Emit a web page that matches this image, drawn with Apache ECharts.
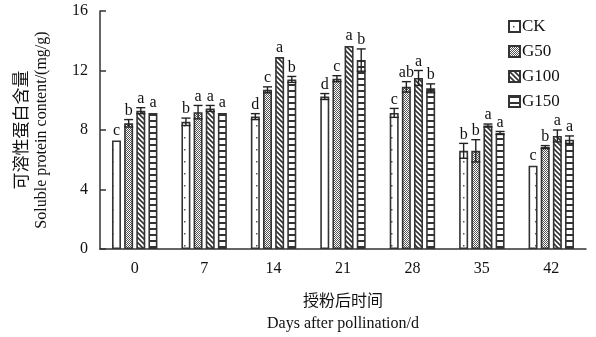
<!DOCTYPE html>
<html>
<head>
<meta charset="utf-8">
<script src="https://cdn.jsdelivr.net/npm/echarts@6/dist/echarts.min.js"></script>
<style>
  html, body { margin: 0; padding: 0; background: #fff; }
  #main { width: 596px; height: 337px; }
</style>
</head>
<body>
<div id="main"></div>
<script>
// 授粉后天数
var categories = ['0', '7', '14', '21', '28', '35', '42'];
var seriesNames = ['CK', 'G50', 'G100', 'G150'];

// 可溶性蛋白含量 (mg/g)
var ckData   = [7.3, 8.55, 8.9, 10.25, 9.15, 6.6, 5.6];
var g50Data  = [8.45, 9.2, 10.7, 11.45, 10.9, 6.6, 6.85];
var g100Data = [9.3, 9.45, 12.9, 13.65, 11.5, 8.3, 7.6];
var g150Data = [9.15, 9.15, 11.4, 12.7, 10.8, 7.8, 7.35];

// 标准误
var ckErr   = [0.05, 0.25, 0.2, 0.2, 0.3, 0.5, 0.05];
var g50Err  = [0.25, 0.45, 0.2, 0.2, 0.35, 0.75, 0.1];
var g100Err = [0.2, 0.2, 0.05, 0.05, 0.5, 0.1, 0.4];
var g150Err = [0.05, 0.05, 0.2, 0.75, 0.3, 0.1, 0.25];

// 显著性字母
var ckSig   = ['c', 'b', 'd', 'd', 'c', 'b', 'c'];
var g50Sig  = ['b', 'a', 'c', 'c', 'ab', 'b', 'b'];
var g100Sig = ['a', 'a', 'a', 'a', 'a', 'a', 'a'];
var g150Sig = ['a', 'a', 'b', 'b', 'b', 'a', 'a'];

var yTicks = [0, 4, 8, 12, 16];

var allData = [ckData, g50Data, g100Data, g150Data];
var allErr = [ckErr, g50Err, g100Err, g150Err];
var allSig = [ckSig, g50Sig, g100Sig, g150Sig];

var BAR_W = 9;
var BAR_GAP = 0.35;
var serif = '"Liberation Serif", "Times New Roman", serif';
var cjk = '"Noto Sans CJK SC", sans-serif';

// 填充图案
function makePattern(kind) {
    var c = document.createElement('canvas');
    var ctx;
    if (kind === 'dot') {
        c.width = 9; c.height = 12;
        ctx = c.getContext('2d');
        ctx.fillStyle = '#fff'; ctx.fillRect(0, 0, 9, 12);
        ctx.fillStyle = '#555'; ctx.fillRect(4, 5, 1.5, 1.5);
    } else if (kind === 'dense') {
        c.width = 2; c.height = 2;
        ctx = c.getContext('2d');
        ctx.fillStyle = '#fff'; ctx.fillRect(0, 0, 2, 2);
        ctx.fillStyle = '#555';
        ctx.fillRect(0, 0, 1, 1); ctx.fillRect(1, 1, 1, 1);
    } else if (kind === 'diag') {
        c.width = 5; c.height = 5;
        ctx = c.getContext('2d');
        ctx.fillStyle = '#fff'; ctx.fillRect(0, 0, 5, 5);
        ctx.strokeStyle = '#333'; ctx.lineWidth = 1.6;
        ctx.beginPath();
        ctx.moveTo(-1, -1); ctx.lineTo(6, 6);
        ctx.moveTo(-1, 4); ctx.lineTo(1, 6);
        ctx.moveTo(4, -1); ctx.lineTo(6, 1);
        ctx.stroke();
    } else {
        c.width = 6; c.height = 6;
        ctx = c.getContext('2d');
        ctx.fillStyle = '#fff'; ctx.fillRect(0, 0, 6, 6);
        ctx.fillStyle = '#333'; ctx.fillRect(0, 0, 6, 2);
    }
    return { image: c, repeat: 'repeat' };
}
var patterns = [makePattern('dot'), makePattern('dense'), makePattern('diag'), makePattern('hline')];

var barSeries = seriesNames.map(function (name, i) {
    return {
        name: name,
        type: 'bar',
        data: allData[i],
        barWidth: BAR_W,
        barGap: (BAR_GAP * 100) + '%',
        itemStyle: {
            color: patterns[i],
            borderColor: '#333',
            borderWidth: 1.6
        },
        emphasis: { disabled: true }
    };
});

// 误差线 + 字母
var errData = [];
for (var s = 0; s < 4; s++) {
    for (var k = 0; k < categories.length; k++) {
        errData.push([k, allData[s][k], allErr[s][k], s]);
    }
}

function renderErr(params, api) {
    var cat = api.value(0), val = api.value(1), err = api.value(2), s = api.value(3);
    var k = params.dataIndex % categories.length;
    var center = api.coord([cat, val]);
    var pitch = BAR_W * (1 + BAR_GAP);
    var x = center[0] + (s - 1.5) * pitch;
    var top = api.coord([cat, val + err])[1];
    var bot = api.coord([cat, Math.max(val - err, 0)])[1];
    var half = BAR_W / 2;
    var st = { stroke: '#222', lineWidth: 1.4 };
    var children = [];
    if (err > 0.08) {
        children.push({ type: 'line', shape: { x1: x, y1: top, x2: x, y2: bot }, style: st });
        children.push({ type: 'line', shape: { x1: x - half, y1: top, x2: x + half, y2: top }, style: st });
        children.push({ type: 'line', shape: { x1: x - half, y1: bot, x2: x + half, y2: bot }, style: st });
    }
    children.push({
        type: 'text',
        style: {
            text: allSig[s][k],
            x: x, y: top - 1,
            align: 'center', verticalAlign: 'bottom',
            font: '16px ' + serif,
            fill: '#111'
        }
    });
    return { type: 'group', children: children };
}

var option = {
    backgroundColor: '#fff',
    animation: false,
    textStyle: { fontFamily: serif },
    grid: { left: 100, right: 10, top: 11, bottom: 88, outerBoundsMode: 'none' },
    legend: {
        data: seriesNames,
        orient: 'vertical',
        left: 503,
        top: 13,
        itemWidth: 11,
        itemHeight: 11,
        itemGap: 8,
        icon: 'rect',
        textStyle: { fontFamily: serif, fontSize: 17, color: '#111', padding: [0, 0, 0, -3] }
    },
    xAxis: {
        type: 'category',
        data: categories,
        axisLine: { lineStyle: { color: '#333', width: 1.5 } },
        axisTick: { inside: true, length: 7, lineStyle: { color: '#333', width: 1.5 } },
        axisLabel: { fontFamily: serif, fontSize: 16, color: '#111', margin: 12 },
        name: '{cn|授粉后时间}\n{en|Days after pollination/d}',
        nameLocation: 'middle',
        nameGap: 39,
        nameTextStyle: {
            rich: {
                cn: { fontFamily: cjk, fontSize: 16, color: '#111', lineHeight: 24, align: 'center' },
                en: { fontFamily: serif, fontSize: 16, color: '#111', lineHeight: 24, align: 'center' }
            }
        }
    },
    yAxis: {
        type: 'value',
        min: yTicks[0],
        max: yTicks[yTicks.length - 1],
        interval: 4,
        splitLine: { show: false },
        axisLine: { show: true, lineStyle: { color: '#333', width: 1.5 } },
        axisTick: { show: true, inside: true, length: 6, lineStyle: { color: '#333', width: 1.5 } },
        axisLabel: { fontFamily: serif, fontSize: 16, color: '#111', margin: 12 },
        name: '{cn|可溶性蛋白含量}\n{en|Soluble protein content/(mg/g)}',
        nameLocation: 'middle',
        nameRotate: 90,
        nameGap: 48,
        nameTextStyle: {
            rich: {
                cn: { fontFamily: cjk, fontSize: 17, color: '#111', lineHeight: 21, align: 'center' },
                en: { fontFamily: serif, fontSize: 16, color: '#111', lineHeight: 21, align: 'center' }
            }
        }
    },
    series: barSeries.concat([{
        type: 'custom',
        name: 'err',
        renderItem: renderErr,
        data: errData,
        encode: { x: 0, y: 1 },
        z: 5,
        silent: true
    }])
};

var chart = echarts.init(document.getElementById('main'));
chart.setOption(option);
</script>
</body>
</html>
